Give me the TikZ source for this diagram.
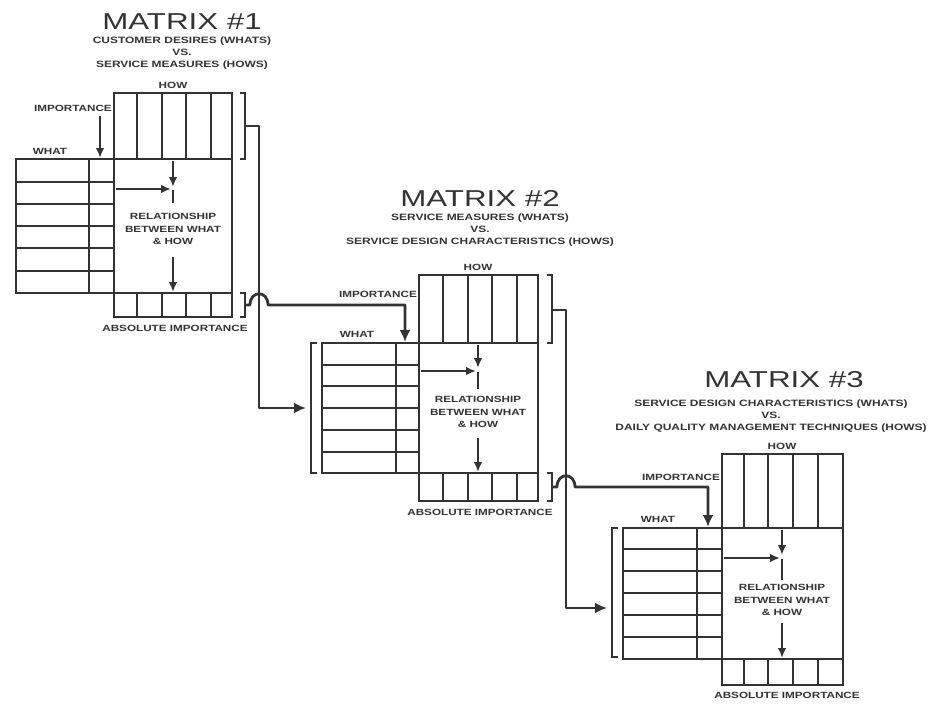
\documentclass[tikz,border=0pt]{standalone}
\usepackage{fontspec}
\setmainfont{Liberation Sans}
\newfontfamily\widefont[FakeStretch=1.3]{Liberation Sans}
\newfontfamily\titlefont[FakeStretch=1.36]{Liberation Sans}
\usetikzlibrary{arrows.meta}
\definecolor{ink}{gray}{0.2}

\begin{document}
\begin{tikzpicture}[x=1pt, y=-1pt,
    ttl/.style={font=\titlefont\fontsize{23}{23}\selectfont, text=ink, inner sep=0pt},
    subt/.style={font=\widefont\bfseries\fontsize{9.2}{12}\selectfont, align=center, text=ink, inner sep=0pt},
    lbl/.style={font=\widefont\bfseries\fontsize{9}{12.5}\selectfont, align=center, text=ink, inner sep=0pt},
    cell/.style={draw=ink, line width=1.8pt},
    arr/.style={draw=ink, line width=2pt, -{Latex[length=10pt,width=8.5pt]}},
    conn/.style={draw=ink, line width=2.8pt, line join=round, -{Latex[length=12pt,width=11pt]}},
]
\useasboundingbox (0,0) rectangle (935,704);

% Matrix 1
\node[ttl] (t1) at (182,22) {MATRIX \#1};
\node[subt] (s1) at (182,53) {CUSTOMER DESIRES (WHATS)\\VS.\\SERVICE MEASURES (HOWS)};
\node[lbl] (how1) at (173,85) {HOW};
\node[lbl, anchor=east] (imp1) at (112,108) {IMPORTANCE};
\node[lbl] (what1) at (50,151) {WHAT};
\node[lbl] (rel1) at (173,229) {RELATIONSHIP\\BETWEEN WHAT\\\& HOW};
\node[lbl] (abs1) at (175,328) {ABSOLUTE IMPORTANCE};
% roof, rows, bottom row
\draw[cell] (114,93) rectangle (232,159);
\draw[cell] (137,93) -- (137,159) (162,93) -- (162,159) (186,93) -- (186,159) (211,93) -- (211,159);
\draw[cell] (16,159) rectangle (232,293);
\draw[cell] (89,159) -- (89,293) (114,159) -- (114,293);
\draw[cell] (16,182) -- (114,182) (16,204) -- (114,204) (16,226) -- (114,226) (16,248) -- (114,248) (16,271) -- (114,271);
\draw[cell] (114,293) rectangle (232,317);
\draw[cell] (137,293) -- (137,317) (162,293) -- (162,317) (186,293) -- (186,317) (211,293) -- (211,317);
% brackets
\draw[cell] (240,93) -- (245,93) -- (245,159) -- (240,159);
\draw[cell] (240,293) -- (245,293) -- (245,317) -- (240,317);
\coordinate (b1roof) at (245,126);
\coordinate (b1abs) at (245,305);
% arrows inside
\coordinate (m1imp) at (100,158);
\draw[arr] ([yshift=-5pt]imp1.south -| m1imp) -- (m1imp);
\draw[arr] (173,161) -- (173,187);
\draw[arr] (116,189) -- (171,189);
\draw[cell] (173,190) -- (173,203);
\draw[arr] (173,257) -- (173,292);

% Matrix 2
\node[ttl] (t2) at (480,198) {MATRIX \#2};
\node[subt] (s2) at (480,230) {SERVICE MEASURES (WHATS)\\VS.\\SERVICE DESIGN CHARACTERISTICS (HOWS)};
\node[lbl] (how2) at (478,267) {HOW};
\node[lbl, anchor=east] (imp2) at (417,294) {IMPORTANCE};
\node[lbl] (what2) at (357,334) {WHAT};
\node[lbl] (rel2) at (478,412) {RELATIONSHIP\\BETWEEN WHAT\\\& HOW};
\node[lbl] (abs2) at (480,512) {ABSOLUTE IMPORTANCE};
% roof, rows, bottom row
\draw[cell] (419,275) rectangle (538,343);
\draw[cell] (443,275) -- (443,343) (468,275) -- (468,343) (492,275) -- (492,343) (517,275) -- (517,343);
\draw[cell] (322,343) rectangle (538,473);
\draw[cell] (396,343) -- (396,473) (419,343) -- (419,473);
\draw[cell] (322,365) -- (419,365) (322,386) -- (419,386) (322,408) -- (419,408) (322,430) -- (419,430) (322,452) -- (419,452);
\draw[cell] (419,473) rectangle (538,501);
\draw[cell] (443,473) -- (443,501) (468,473) -- (468,501) (492,473) -- (492,501) (517,473) -- (517,501);
% brackets
\draw[cell] (317,343) -- (311,343) -- (311,473) -- (317,473);
\draw[cell] (547,275) -- (552,275) -- (552,343) -- (547,343);
\draw[cell] (547,473) -- (552,473) -- (552,501) -- (547,501);
\coordinate (b2what) at (311,408);
\coordinate (b2roof) at (552,310);
\coordinate (b2abs) at (552,487);
\coordinate (m2imp) at (405,342);
% arrows inside
\draw[arr] (478,345) -- (478,368);
\draw[arr] (421,371) -- (476,371);
\draw[cell] (478,372) -- (478,389);
\draw[arr] (478,438) -- (478,472);

% Matrix 3
\node[ttl] (t3) at (784,380) {MATRIX \#3};
\node[subt] (s3) at (771,416) {SERVICE DESIGN CHARACTERISTICS (WHATS)\\VS.\\DAILY QUALITY MANAGEMENT TECHNIQUES (HOWS)};
\node[lbl] (how3) at (782,446) {HOW};
\node[lbl, anchor=east] (imp3) at (720,477) {IMPORTANCE};
\node[lbl] (what3) at (658,519) {WHAT};
\node[lbl] (rel3) at (782,600) {RELATIONSHIP\\BETWEEN WHAT\\\& HOW};
\node[lbl] (abs3) at (787,695) {ABSOLUTE IMPORTANCE};
% roof, rows, bottom row
\draw[cell] (722,454) rectangle (843,528);
\draw[cell] (744,454) -- (744,528) (768,454) -- (768,528) (793,454) -- (793,528) (818,454) -- (818,528);
\draw[cell] (623,528) rectangle (843,659);
\draw[cell] (697,528) -- (697,659) (722,528) -- (722,659);
\draw[cell] (623,549) -- (722,549) (623,571) -- (722,571) (623,593) -- (722,593) (623,615) -- (722,615) (623,637) -- (722,637);
\draw[cell] (722,659) rectangle (843,685);
\draw[cell] (744,659) -- (744,685) (768,659) -- (768,685) (793,659) -- (793,685) (818,659) -- (818,685);
% bracket
\draw[cell] (618,528) -- (612,528) -- (612,657) -- (618,657);
\coordinate (b3what) at (612,608);
\coordinate (m3imp) at (708,527);
% arrows inside
\draw[arr] (782,530) -- (782,555);
\draw[arr] (724,558) -- (780,558);
\draw[cell] (782,559) -- (782,580);
\draw[arr] (782,623) -- (782,658);

% Connectors between matrices
\draw[conn, shorten >=5pt] (b1roof) -- (259,126) -- (259,408) -- (b2what);
\draw[conn] (b1abs) -- (250,305) .. controls (250,290) and (268,290) .. (268,305) -- (405,305) -- (m2imp);
\draw[conn, shorten >=5pt] (b2roof) -- (566,310) -- (566,608) -- (b3what);
\draw[conn] (b2abs) -- (557,487) .. controls (557,472) and (575,472) .. (575,487) -- (708,487) -- (m3imp);
\end{tikzpicture}
\end{document}
